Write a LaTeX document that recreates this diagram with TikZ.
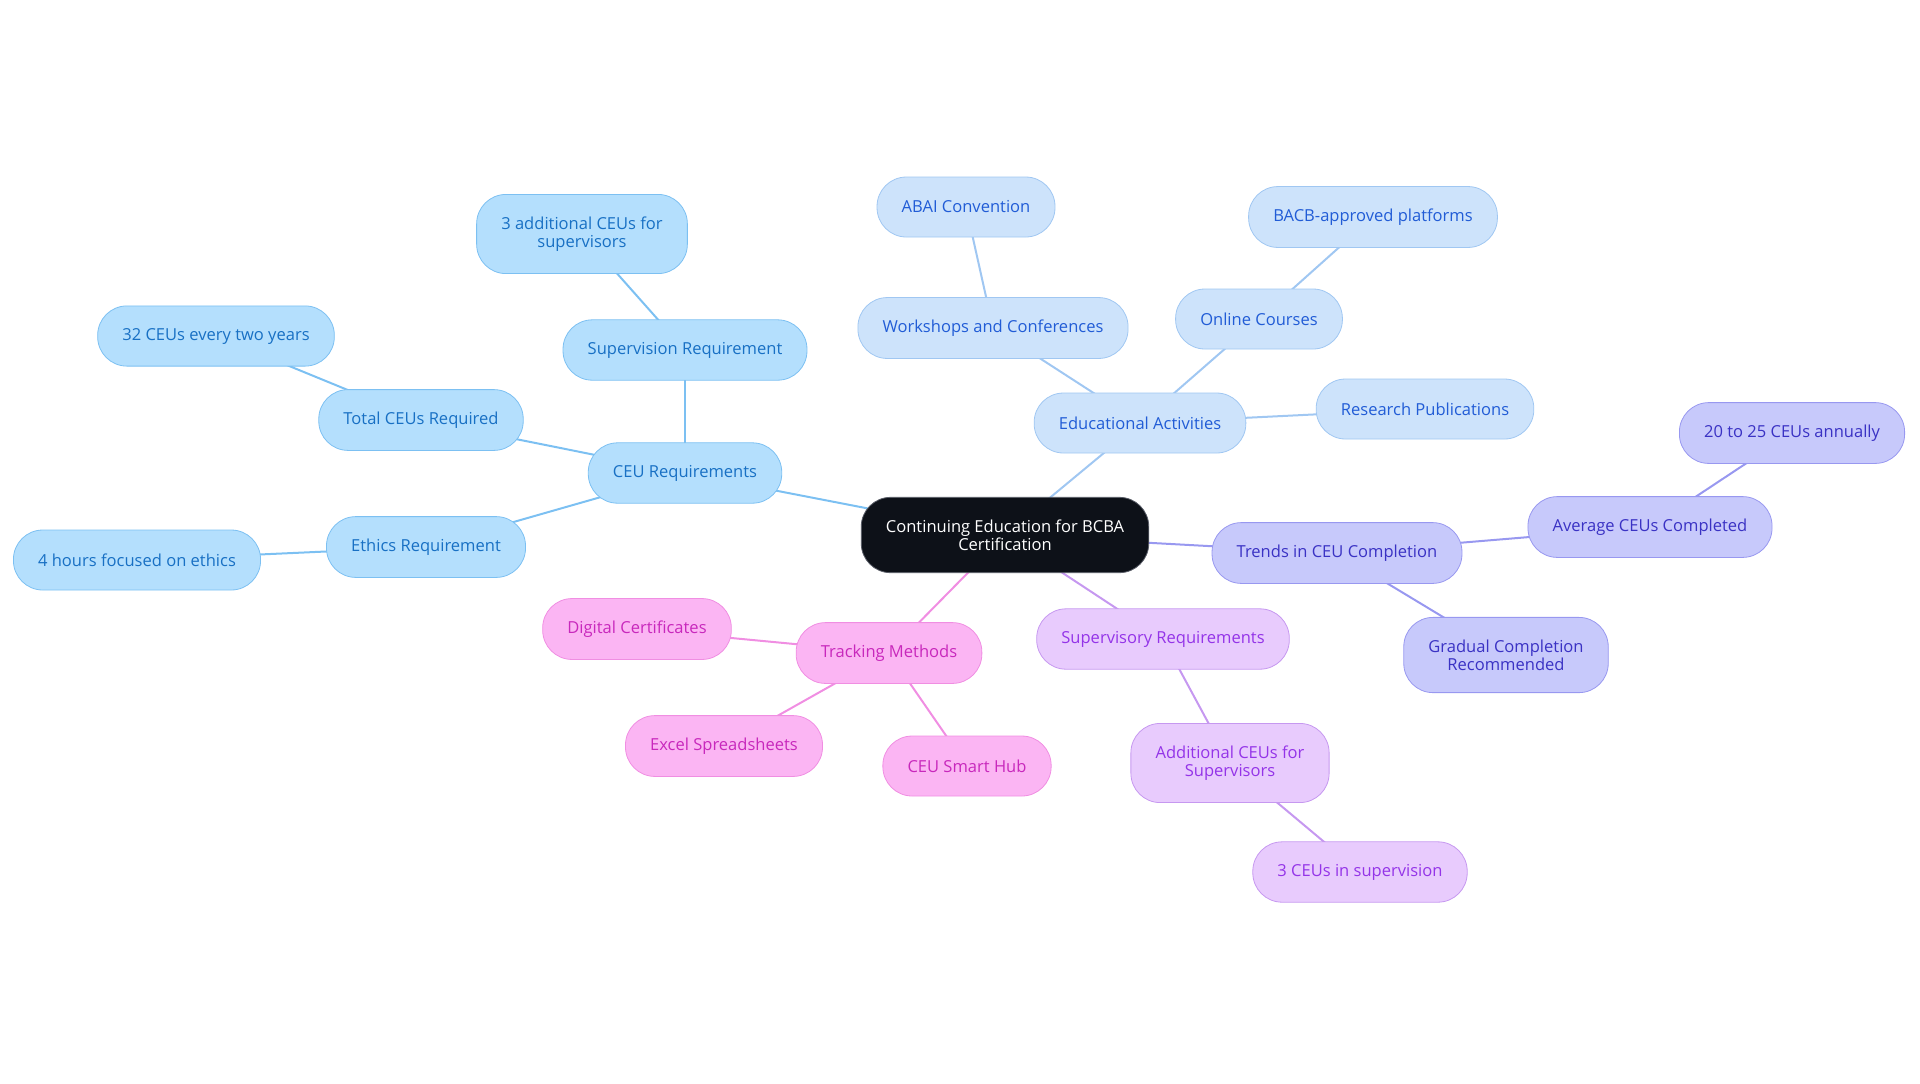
\documentclass[tikz,border=0pt]{standalone}
\usepackage{fontspec}
\setmainfont{Open Sans}
\usepackage{xcolor}
\usepackage{tikz}
\usetikzlibrary{backgrounds}

\definecolor{rootfill}{RGB}{13,17,24}
\definecolor{rootline}{RGB}{90,94,104}
\definecolor{ceufill}{RGB}{180,223,253}
\definecolor{ceuline}{RGB}{124,192,242}
\definecolor{ceutext}{RGB}{24,112,196}
\definecolor{edufill}{RGB}{205,227,251}
\definecolor{eduline}{RGB}{160,199,242}
\definecolor{edutext}{RGB}{33,92,214}
\definecolor{trdfill}{RGB}{199,201,251}
\definecolor{trdline}{RGB}{152,152,240}
\definecolor{trdtext}{RGB}{58,50,196}
\definecolor{supfill}{RGB}{232,203,253}
\definecolor{supline}{RGB}{198,152,240}
\definecolor{suptext}{RGB}{148,52,232}
\definecolor{trkfill}{RGB}{251,181,243}
\definecolor{trkline}{RGB}{240,142,226}
\definecolor{trktext}{RGB}{200,40,188}

\begin{document}
\begin{tikzpicture}[
    x=0.75pt, y=-0.75pt,
    topic/.style={draw, rounded corners=22pt, align=center, minimum height=45pt,
    inner xsep=18.5pt, inner ysep=16.6pt, line width=0.6pt,
    font=\fontsize{12.4}{13.7}\selectfont},
    root/.style={topic, fill=rootfill, draw=rootline, text=white},
    ceu/.style={topic, fill=ceufill, draw=ceuline, text=ceutext},
    edu/.style={topic, fill=edufill, draw=eduline, text=edutext},
    trd/.style={topic, fill=trdfill, draw=trdline, text=trdtext},
    sup/.style={topic, fill=supfill, draw=supline, text=suptext},
    trk/.style={topic, fill=trkfill, draw=trkline, text=trktext},
    link/.style={line width=1.5pt}
]
\useasboundingbox (0,0) rectangle (1920,1083);

\node[root] (main) at (1005,535) {Continuing Education for BCBA\\Certification};

\node[ceu] (ceureq) at (685,473) {CEU Requirements};
\node[ceu] (supv) at (685,350) {Supervision Requirement};
\node[ceu] (extra) at (582,234) {3 additional CEUs for\\supervisors};
\node[ceu] (total) at (421,420) {Total CEUs Required};
\node[ceu] (twoyr) at (216,336) {32 CEUs every two years};
\node[ceu] (ethics) at (426,547) {Ethics Requirement};
\node[ceu] (fourh) at (137,560) {4 hours focused on ethics};

\node[edu] (eduact) at (1140,423) {Educational Activities};
\node[edu] (wkshop) at (993,328) {Workshops and Conferences};
\node[edu] (abai) at (966,207) {ABAI Convention};
\node[edu] (online) at (1259,319) {Online Courses};
\node[edu] (bacb) at (1373,217) {BACB-approved platforms};
\node[edu] (resrch) at (1425,409) {Research Publications};

\node[trd] (trends) at (1337,553) {Trends in CEU Completion};
\node[trd] (avg) at (1650,527) {Average CEUs Completed};
\node[trd] (annual) at (1792,433) {20 to 25 CEUs annually};
\node[trd] (gradual) at (1506,655) {Gradual Completion\\Recommended};

\node[sup] (supreq) at (1163,639) {Supervisory Requirements};
\node[sup] (addsup) at (1230,763) {Additional CEUs for\\Supervisors};
\node[sup] (inspv) at (1360,872) {3 CEUs in supervision};

\node[trk] (track) at (889,653) {Tracking Methods};
\node[trk] (digital) at (637,629) {Digital Certificates};
\node[trk] (excel) at (724,746) {Excel Spreadsheets};
\node[trk] (hub) at (967,766) {CEU Smart Hub};

\begin{scope}[on background layer]
\draw[link, ceuline] (main.center) -- (ceureq.center);
\draw[link, ceuline] (ceureq.center) -- (supv.center);
\draw[link, ceuline] (supv.center) -- (extra.center);
\draw[link, ceuline] (ceureq.center) -- (total.center);
\draw[link, ceuline] (total.center) -- (twoyr.center);
\draw[link, ceuline] (ceureq.center) -- (ethics.center);
\draw[link, ceuline] (ethics.center) -- (fourh.center);
\draw[link, eduline] (main.center) -- (eduact.center);
\draw[link, eduline] (eduact.center) -- (wkshop.center);
\draw[link, eduline] (wkshop.center) -- (abai.center);
\draw[link, eduline] (eduact.center) -- (online.center);
\draw[link, eduline] (online.center) -- (bacb.center);
\draw[link, eduline] (eduact.center) -- (resrch.center);
\draw[link, trdline] (main.center) -- (trends.center);
\draw[link, trdline] (trends.center) -- (avg.center);
\draw[link, trdline] (avg.center) -- (annual.center);
\draw[link, trdline] (trends.center) -- (gradual.center);
\draw[link, supline] (main.center) -- (supreq.center);
\draw[link, supline] (supreq.center) -- (addsup.center);
\draw[link, supline] (addsup.center) -- (inspv.center);
\draw[link, trkline] (main.center) -- (track.center);
\draw[link, trkline] (track.center) -- (digital.center);
\draw[link, trkline] (track.center) -- (excel.center);
\draw[link, trkline] (track.center) -- (hub.center);
\end{scope}
\end{tikzpicture}
\end{document}
